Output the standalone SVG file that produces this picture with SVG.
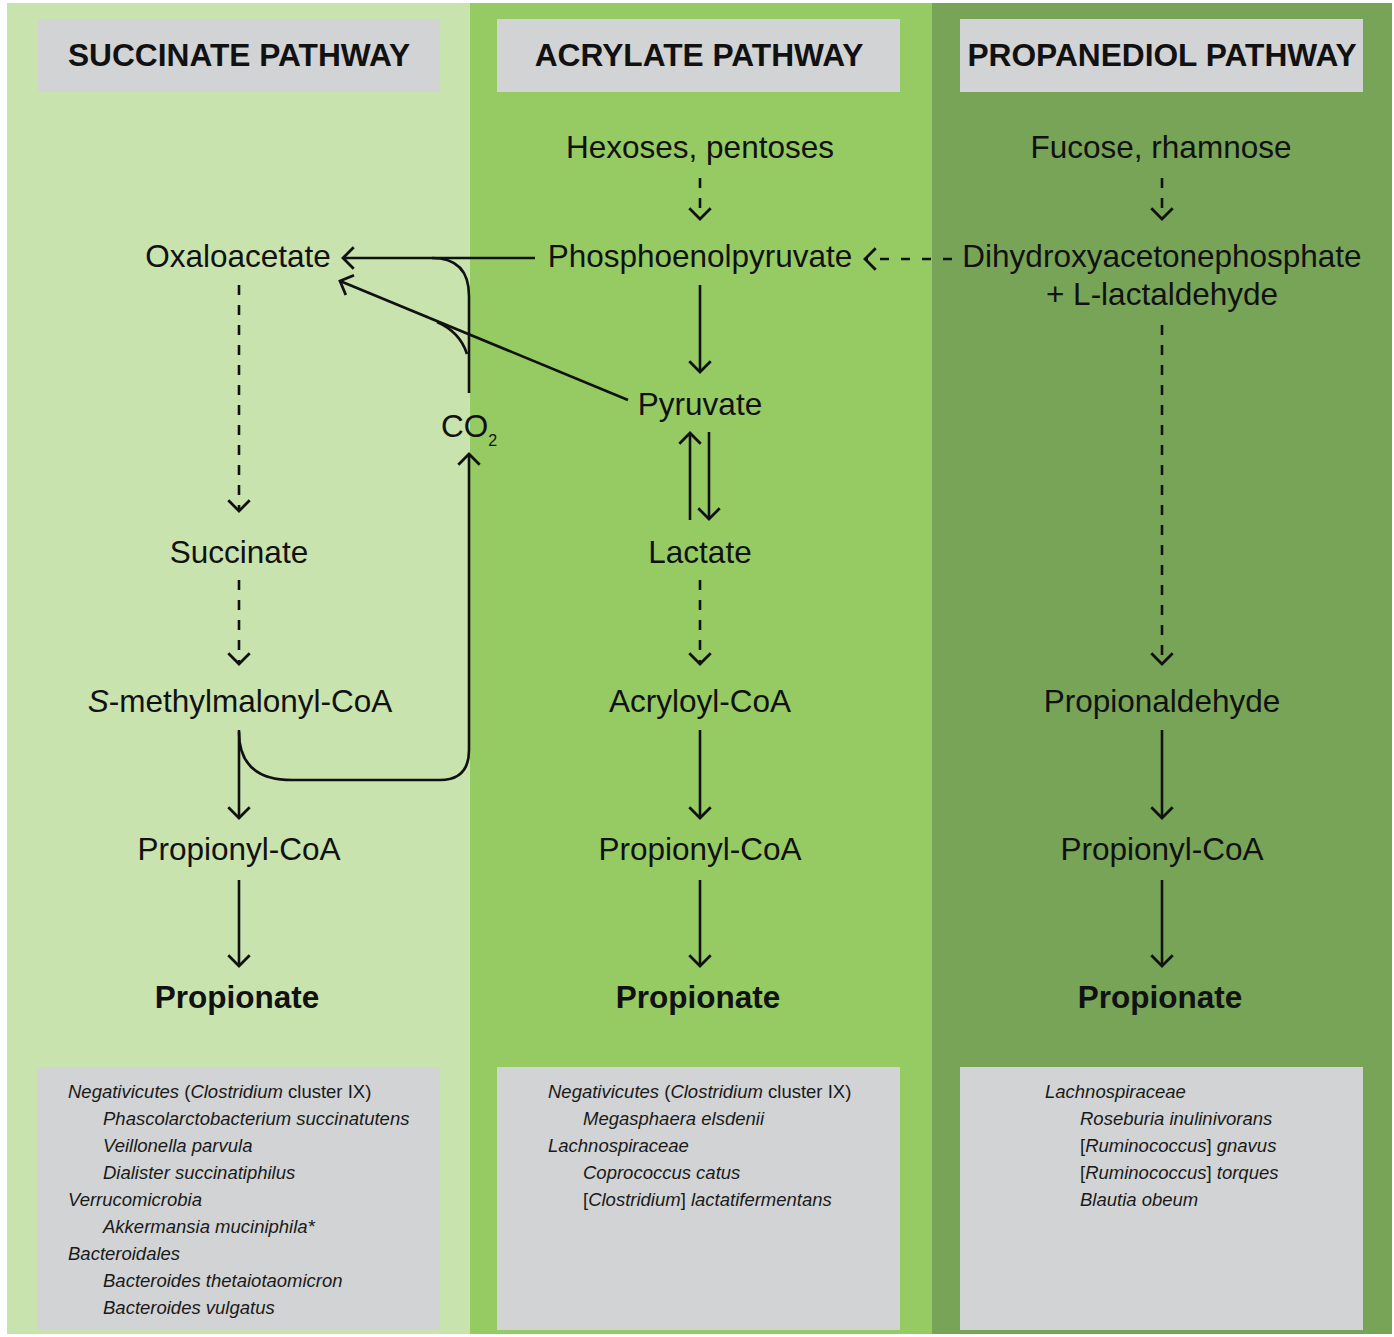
<svg xmlns="http://www.w3.org/2000/svg" width="1394" height="1337" viewBox="0 0 1394 1337">
<style>
.lbl{font-family:"Liberation Sans",Arial,Helvetica,sans-serif;font-size:31.5px;fill:#111;text-anchor:middle}
.bold{font-weight:bold}
.hdr{font-family:"Liberation Sans",Arial,Helvetica,sans-serif;font-size:31.7px;font-weight:bold;fill:#111;text-anchor:middle}
.sp{font-family:"Liberation Sans",Arial,Helvetica,sans-serif;font-size:18.5px;fill:#1a1a1a;font-style:italic}
.up{font-style:normal}
.box{fill:#d1d3d4}
.ln{stroke:#111;stroke-width:2.6;fill:none}
.dash{stroke-dasharray:10 10}
.arr{marker-end:url(#ah)}
</style>
<defs>
<marker id="ah" markerUnits="userSpaceOnUse" markerWidth="30" markerHeight="30" viewBox="-14 -14 28 28" refX="0" refY="0" orient="auto" overflow="visible">
<path d="M-10,-10 L0,0 L-10,10" fill="none" stroke="#111" stroke-width="2.6" stroke-dasharray="none"/>
</marker>
</defs>
<rect width="1394" height="1337" fill="#ffffff"/>
<g id="panels">
<rect x="7" y="3" width="463" height="1331" fill="#c9e3ae"/>
<rect x="470" y="3" width="462" height="1331" fill="#96cb64"/>
<rect x="932" y="3" width="460" height="1331" fill="#78a457"/>
</g>
<g id="headers">
<rect class="box" x="38" y="19" width="402" height="73"/>
<rect class="box" x="497" y="19" width="403" height="73"/>
<rect class="box" x="960" y="19" width="403" height="73"/>
<text class="hdr" x="239" y="66">SUCCINATE PATHWAY</text>
<text class="hdr" x="699" y="66">ACRYLATE PATHWAY</text>
<text class="hdr" x="1162" y="66">PROPANEDIOL PATHWAY</text>
</g>
<g id="nodes">
<g id="hexoses"><text class="lbl" x="700" y="158">Hexoses, pentoses</text></g>
<g id="fucose"><text class="lbl" x="1161" y="158">Fucose, rhamnose</text></g>
<g id="oxaloacetate"><text class="lbl" x="238" y="267">Oxaloacetate</text></g>
<g id="pep"><text class="lbl" x="700" y="267">Phosphoenolpyruvate</text></g>
<g id="dhap"><text class="lbl" x="1162" y="267">Dihydroxyacetonephosphate</text><text class="lbl" x="1162" y="305">+ L-lactaldehyde</text></g>
<g id="pyruvate"><text class="lbl" x="700" y="415">Pyruvate</text></g>
<g id="co2"><text class="lbl" x="441" y="437" style="text-anchor:start">CO<tspan font-size="16" dy="9">2</tspan></text></g>
<g id="succinate"><text class="lbl" x="239" y="563">Succinate</text></g>
<g id="lactate"><text class="lbl" x="700" y="563">Lactate</text></g>
<g id="smethylmalonyl"><text class="lbl" x="240" y="712"><tspan font-style="italic">S</tspan>-methylmalonyl-CoA</text></g>
<g id="acryloyl"><text class="lbl" x="700" y="712">Acryloyl-CoA</text></g>
<g id="propionaldehyde"><text class="lbl" x="1162" y="712">Propionaldehyde</text></g>
<g id="propionylcoa1"><text class="lbl" x="239" y="860">Propionyl-CoA</text></g>
<g id="propionylcoa2"><text class="lbl" x="700" y="860">Propionyl-CoA</text></g>
<g id="propionylcoa3"><text class="lbl" x="1162" y="860">Propionyl-CoA</text></g>
<g id="propionate1"><text class="lbl bold" x="237" y="1008">Propionate</text></g>
<g id="propionate2"><text class="lbl bold" x="698" y="1008">Propionate</text></g>
<g id="propionate3"><text class="lbl bold" x="1160" y="1008">Propionate</text></g>
</g>
<g id="connectors">
<line class="ln dash arr" x1="700" y1="178" x2="700" y2="219"/>
<line class="ln dash arr" x1="1162" y1="178" x2="1162" y2="219"/>
<line class="ln dash arr" x1="239" y1="285" x2="239" y2="511"/>
<line class="ln dash arr" x1="239" y1="580" x2="239" y2="664"/>
<line class="ln dash arr" x1="700" y1="580" x2="700" y2="664"/>
<line class="ln dash arr" x1="1162" y1="325" x2="1162" y2="664"/>
<line class="ln dash arr" x1="952" y1="259" x2="865" y2="259" style="stroke-dasharray:9 12"/>
<line class="ln arr" x1="700" y1="285" x2="700" y2="372"/>
<line class="ln arr" x1="690" y1="520" x2="690" y2="433"/>
<line class="ln arr" x1="709" y1="432" x2="709" y2="519"/>
<line class="ln arr" x1="239" y1="730" x2="239" y2="818"/>
<line class="ln arr" x1="239" y1="880" x2="239" y2="966"/>
<line class="ln arr" x1="700" y1="730" x2="700" y2="818"/>
<line class="ln arr" x1="700" y1="880" x2="700" y2="966"/>
<line class="ln arr" x1="1162" y1="730" x2="1162" y2="818"/>
<line class="ln arr" x1="1162" y1="880" x2="1162" y2="966"/>
<line class="ln arr" x1="535" y1="258" x2="343" y2="258"/>
<line class="ln arr" x1="628" y1="400" x2="340" y2="281"/>
<path class="ln" d="M469,393 L469,296 Q469,258 432,258"/>
<path class="ln" d="M467,354 Q460,332 437,322"/>
<path class="ln arr" d="M239,732 Q239,780 292,780 L440,780 Q469,780 469,750 L469,454"/>
</g>
<g id="bottom">
<rect class="box" x="37" y="1067" width="403" height="263"/>
<rect class="box" x="497" y="1067" width="403" height="263"/>
<rect class="box" x="960" y="1067" width="403" height="263"/>
<g id="species-succinate">
<text class="sp" x="68" y="1098">Negativicutes <tspan class="up">(</tspan>Clostridium<tspan class="up"> cluster IX)</tspan></text>
<text class="sp" x="103" y="1125">Phascolarctobacterium succinatutens</text>
<text class="sp" x="103" y="1152">Veillonella parvula</text>
<text class="sp" x="103" y="1179">Dialister succinatiphilus</text>
<text class="sp" x="68" y="1206">Verrucomicrobia</text>
<text class="sp" x="103" y="1233">Akkermansia muciniphila*</text>
<text class="sp" x="68" y="1260">Bacteroidales</text>
<text class="sp" x="103" y="1287">Bacteroides thetaiotaomicron</text>
<text class="sp" x="103" y="1314">Bacteroides vulgatus</text>
</g>
<g id="species-acrylate">
<text class="sp" x="548" y="1098">Negativicutes <tspan class="up">(</tspan>Clostridium<tspan class="up"> cluster IX)</tspan></text>
<text class="sp" x="583" y="1125">Megasphaera elsdenii</text>
<text class="sp" x="548" y="1152">Lachnospiraceae</text>
<text class="sp" x="583" y="1179">Coprococcus catus</text>
<text class="sp" x="583" y="1206"><tspan class="up">[</tspan>Clostridium<tspan class="up">]</tspan> lactatifermentans</text>
</g>
<g id="species-propanediol">
<text class="sp" x="1045" y="1098">Lachnospiraceae</text>
<text class="sp" x="1080" y="1125">Roseburia inulinivorans</text>
<text class="sp" x="1080" y="1152"><tspan class="up">[</tspan>Ruminococcus<tspan class="up">]</tspan> gnavus</text>
<text class="sp" x="1080" y="1179"><tspan class="up">[</tspan>Ruminococcus<tspan class="up">]</tspan> torques</text>
<text class="sp" x="1080" y="1206">Blautia obeum</text>
</g>
</g>
</svg>
